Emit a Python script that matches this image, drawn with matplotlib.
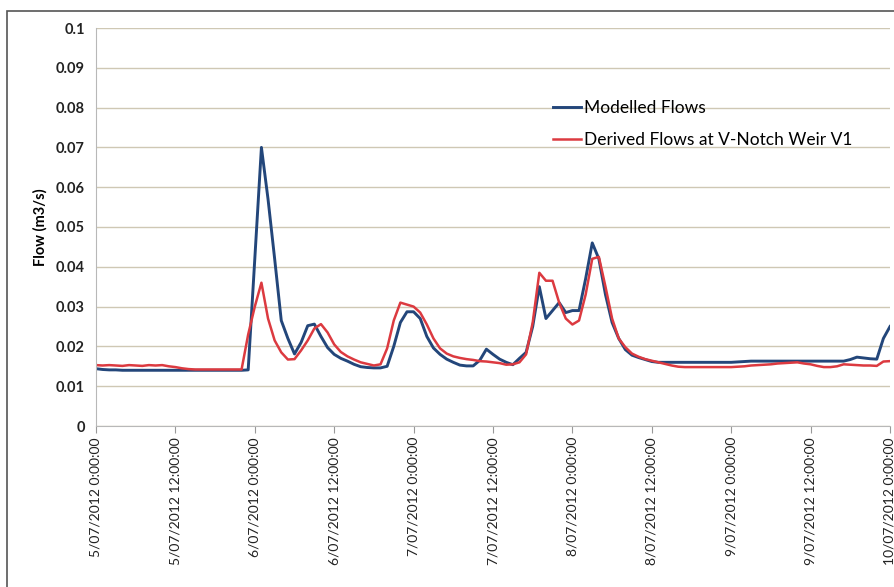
import pandas as pd
import matplotlib
matplotlib.use("Agg")
import matplotlib.pyplot as plt
import matplotlib.dates as mdates
from matplotlib.patches import Rectangle

# hourly readings from 5/07/2012 0:00 to 10/07/2012 0:00
modelled = [
    0.0144, 0.0142, 0.0141, 0.0141, 0.0140, 0.0140, 0.0140, 0.0140, 0.0140, 0.0140,
    0.0140, 0.0140, 0.0140, 0.0140, 0.0140, 0.0140, 0.0140, 0.0140, 0.0140, 0.0140,
    0.0140, 0.0140, 0.0140, 0.0141, 0.0420, 0.0700, 0.0570, 0.0420, 0.0265, 0.0220,
    0.0181, 0.0210, 0.0252, 0.0256, 0.0225, 0.0197, 0.0180, 0.0170, 0.0163, 0.0155,
    0.0149, 0.0147, 0.0146, 0.0146, 0.0150, 0.0200, 0.0260, 0.0287, 0.0287, 0.0270,
    0.0225, 0.0196, 0.0180, 0.0168, 0.0160, 0.0153, 0.0151, 0.0151, 0.0165, 0.0193,
    0.0180, 0.0168, 0.0160, 0.0154, 0.0170, 0.0185, 0.0250, 0.0350, 0.0270, 0.0290,
    0.0310, 0.0285, 0.0290, 0.0290, 0.0370, 0.0460, 0.0420, 0.0330, 0.0260, 0.0220,
    0.0192, 0.0178, 0.0172, 0.0167, 0.0162, 0.0160, 0.0160, 0.0160, 0.0160, 0.0160,
    0.0160, 0.0160, 0.0160, 0.0160, 0.0160, 0.0160, 0.0160, 0.0161, 0.0162, 0.0163,
    0.0163, 0.0163, 0.0163, 0.0163, 0.0163, 0.0163, 0.0163, 0.0163, 0.0163, 0.0163,
    0.0163, 0.0163, 0.0163, 0.0163, 0.0167, 0.0173, 0.0171, 0.0169, 0.0168, 0.0220,
    0.0250,
]
derived = [
    0.0153, 0.0152, 0.0153, 0.0152, 0.0151, 0.0153, 0.0152, 0.0151, 0.0153, 0.0152,
    0.0153, 0.0150, 0.0148, 0.0145, 0.0143, 0.0142, 0.0142, 0.0142, 0.0142, 0.0142,
    0.0142, 0.0142, 0.0142, 0.0230, 0.0300, 0.0360, 0.0270, 0.0215, 0.0185, 0.0167,
    0.0168, 0.0190, 0.0215, 0.0245, 0.0256, 0.0235, 0.0205, 0.0186, 0.0175, 0.0167,
    0.0160, 0.0156, 0.0152, 0.0155, 0.0195, 0.0265, 0.0310, 0.0305, 0.0300, 0.0285,
    0.0255, 0.0220, 0.0195, 0.0182, 0.0175, 0.0171, 0.0168, 0.0166, 0.0163, 0.0162,
    0.0160, 0.0158, 0.0154, 0.0155, 0.0160, 0.0180, 0.0260, 0.0385, 0.0365, 0.0365,
    0.0310, 0.0270, 0.0255, 0.0265, 0.0330, 0.0420, 0.0425, 0.0350, 0.0270, 0.0220,
    0.0198, 0.0182, 0.0174, 0.0168, 0.0164, 0.0160, 0.0156, 0.0152, 0.0149, 0.0148,
    0.0148, 0.0148, 0.0148, 0.0148, 0.0148, 0.0148, 0.0148, 0.0149, 0.0150, 0.0152,
    0.0153, 0.0154, 0.0155, 0.0157, 0.0158, 0.0159, 0.0160, 0.0157, 0.0155, 0.0151,
    0.0148, 0.0148, 0.0150, 0.0155, 0.0154, 0.0153, 0.0152, 0.0152, 0.0151, 0.0162,
    0.0163,
]
times = pd.date_range("2012-07-05 00:00", periods=len(modelled), freq="h")

blue = "#23467a"
red = "#dc3a40"
grid_c = "#cfc8b4"

plt.rcParams["font.family"] = ["Lato", "DejaVu Sans"]

fig = plt.figure(figsize=(8.95, 5.87), dpi=100)
ax = fig.add_axes([96 / 895, 1 - 426 / 587, 794 / 895, 398 / 587])

# outer chart frame
fig.patches.append(Rectangle((7 / 895, -0.05), 1.2, 1 - 11 / 587 + 0.05,
                             transform=fig.transFigure, fill=False,
                             edgecolor="#555555", linewidth=1.2))

ax.plot(times, modelled, color=blue, lw=2.1, label="Modelled Flows")
ax.plot(times, derived, color=red, lw=1.8, label="Derived Flows at V-Notch Weir V1")

ax.set_ylim(0, 0.1)
ax.set_yticks([i / 100 for i in range(11)])
ax.set_yticklabels(["0"] + ["%g" % (i / 100) for i in range(1, 11)],
                   fontsize=10.5, fontweight="bold", color="#222222")
ax.set_ylabel("Flow (m3/s)", fontsize=10.5, fontweight="bold", labelpad=6)

ax.set_xlim(times[0], times[-1])
ax.xaxis.set_major_locator(mdates.HourLocator(byhour=[0, 12]))
ax.xaxis.set_major_formatter(plt.FuncFormatter(
    lambda v, p: (lambda d: f"{d.day}/{d.month:02d}/{d.year} {d.hour}:{d.minute:02d}:{d.second:02d}")(
        mdates.num2date(v))))
plt.setp(ax.get_xticklabels(), rotation=90, fontsize=10, color="#222222")

ax.grid(axis="y", color=grid_c, lw=1.0)
ax.set_axisbelow(True)
for s in ["top", "right"]:
    ax.spines[s].set_visible(False)
ax.spines["left"].set_color("#b8b8b8")
ax.spines["bottom"].set_color("#b8b8b8")
ax.tick_params(axis="x", length=5, color="#999999", pad=3)
ax.tick_params(axis="y", length=0, pad=8)

ax.legend(loc="upper left", bbox_to_anchor=(553 / 895, 1 - 100 / 587),
          bbox_transform=fig.transFigure, frameon=False, fontsize=12.5,
          handlelength=1.6, handletextpad=0.2, labelspacing=0.95,
          borderaxespad=0, borderpad=0)

fig.savefig("out.png", dpi=100)
